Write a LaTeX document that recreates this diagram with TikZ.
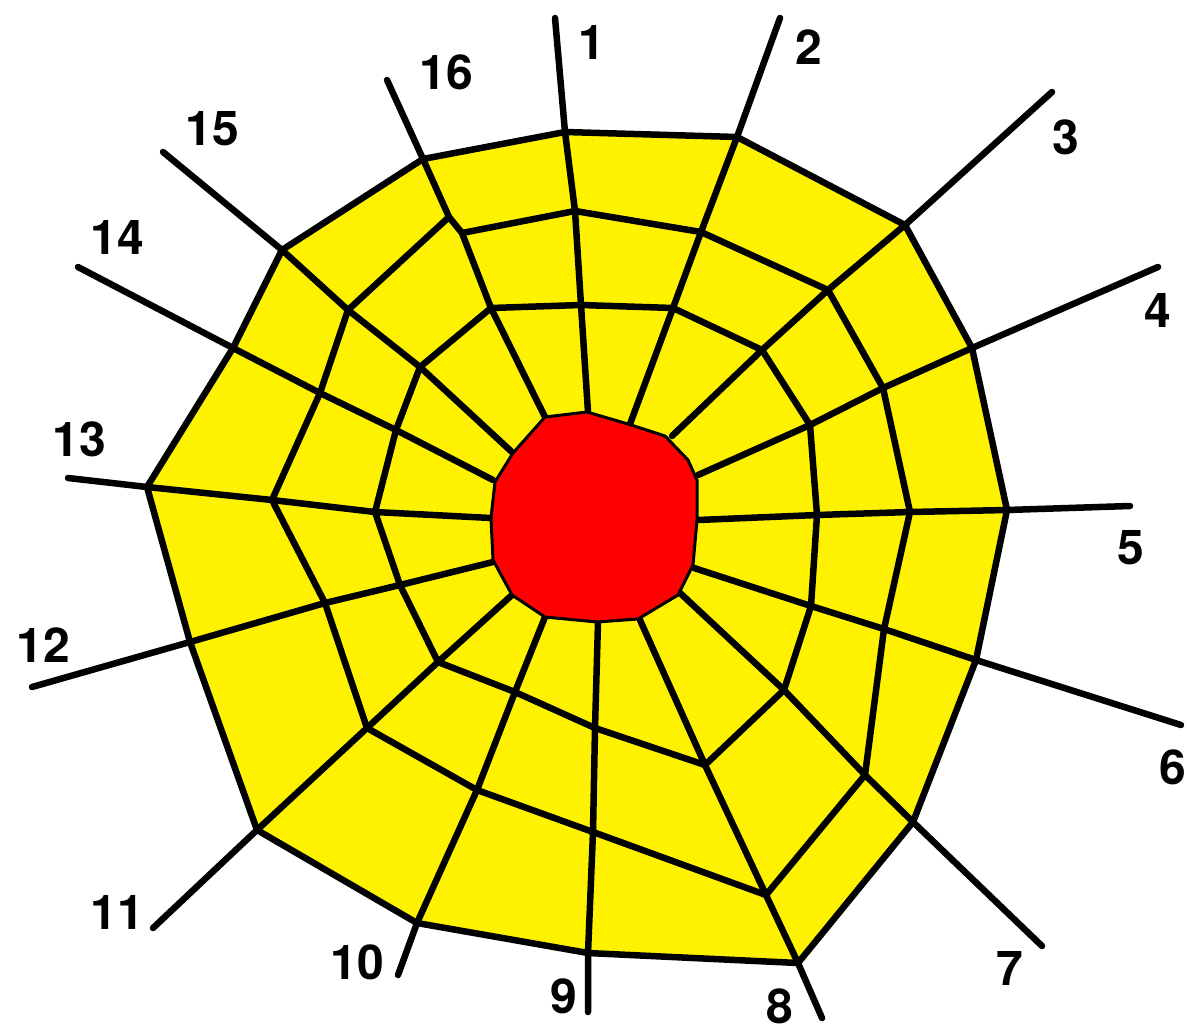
\documentclass[tikz,border=0pt]{standalone}
\usepackage{fontspec}
\setmainfont{TeX Gyre Heros}
\usepackage{tikz}
\newcommand{\spk}[1]{\fontsize{48}{52}\selectfont\bfseries #1}

\begin{document}
\begin{tikzpicture}[x=1pt,y=-1pt]
\useasboundingbox (0,0) rectangle (1190,1035);
% spokes: i = hub end, a = inner turn, b = middle turn, o = frame, e = free end
\coordinate (i1) at (588,412);  \coordinate (a1) at (581,305);  \coordinate (b1) at (575,211);  \coordinate (o1) at (565,132);  \coordinate (e1) at (555,18);
\coordinate (i2) at (630,424);  \coordinate (a2) at (673,308);  \coordinate (b2) at (701,232);  \coordinate (o2) at (737,137);  \coordinate (e2) at (780,18);
\coordinate (i3) at (672,436);  \coordinate (a3) at (762,350);  \coordinate (b3) at (828,290);  \coordinate (o3) at (905,225);  \coordinate (e3) at (1052,92);
\coordinate (i4) at (698,475);  \coordinate (a4) at (810,425);  \coordinate (b4) at (883,388);  \coordinate (o4) at (972,348);  \coordinate (e4) at (1158,267);
\coordinate (i5) at (698,520);  \coordinate (a5) at (817,515);  \coordinate (b5) at (910,512);  \coordinate (o5) at (1007,510); \coordinate (e5) at (1130,506);
\coordinate (i6) at (694,568);  \coordinate (a6) at (811,606);  \coordinate (b6) at (884,629);  \coordinate (o6) at (976,660);  \coordinate (e6) at (1181,725);
\coordinate (i7) at (680,593);  \coordinate (a7) at (784,690);  \coordinate (b7) at (865,775);  \coordinate (o7) at (913,822);  \coordinate (e7) at (1042,946);
\coordinate (i8) at (640,620);  \coordinate (a8) at (705,765);  \coordinate (b8) at (766,895);  \coordinate (o8) at (798,963);  \coordinate (e8) at (822,1018);
\coordinate (i9) at (598,622);  \coordinate (a9) at (595,728);  \coordinate (b9) at (593,832);  \coordinate (o9) at (588,953);  \coordinate (e9) at (588,1012);
\coordinate (i10) at (545,617); \coordinate (a10) at (515,692); \coordinate (b10) at (477,790); \coordinate (o10) at (417,923); \coordinate (e10) at (398,975);
\coordinate (i11) at (512,595); \coordinate (a11) at (438,662); \coordinate (b11) at (367,728); \coordinate (o11) at (257,830); \coordinate (e11) at (153,928);
\coordinate (i12) at (493,562); \coordinate (a12) at (400,585); \coordinate (b12) at (325,603); \coordinate (o12) at (190,642); \coordinate (e12) at (32,687);
\coordinate (i13) at (491,518); \coordinate (a13) at (375,512); \coordinate (b13) at (272,500); \coordinate (o13) at (147,487); \coordinate (e13) at (68,478);
\coordinate (i14) at (493,480); \coordinate (a14) at (396,430); \coordinate (b14) at (320,393); \coordinate (o14) at (233,348); \coordinate (e14) at (78,267);
\coordinate (i15) at (513,453); \coordinate (a15) at (420,367); \coordinate (b15) at (348,310); \coordinate (o15) at (282,250); \coordinate (e15) at (163,152);
\coordinate (i16) at (545,417); \coordinate (a16) at (491,308); \coordinate (c16) at (462,233); \coordinate (b16) at (449,217); \coordinate (o16) at (423,159); \coordinate (e16) at (387,80);
\fill[yellow] (o1)--(o2)--(o3)--(o4)--(o5)--(o6)--(o7)--(o8)--(o9)--(o10)--(o11)--(o12)--(o13)--(o14)--(o15)--(o16)--cycle;
\begin{scope}[line width=6.5pt, line join=round, line cap=round]
\draw (i1)--(a1)--(b1)--(o1)--(e1);
\draw (i2)--(a2)--(b2)--(o2)--(e2);
\draw (i3)--(a3)--(b3)--(o3)--(e3);
\draw (i4)--(a4)--(b4)--(o4)--(e4);
\draw (i5)--(a5)--(b5)--(o5)--(e5);
\draw (i6)--(a6)--(b6)--(o6)--(e6);
\draw (i7)--(a7)--(b7)--(o7)--(e7);
\draw (i8)--(a8)--(b8)--(o8)--(e8);
\draw (i9)--(a9)--(b9)--(o9)--(e9);
\draw (i10)--(a10)--(b10)--(o10)--(e10);
\draw (i11)--(a11)--(b11)--(o11)--(e11);
\draw (i12)--(a12)--(b12)--(o12)--(e12);
\draw (i13)--(a13)--(b13)--(o13)--(e13);
\draw (i14)--(a14)--(b14)--(o14)--(e14);
\draw (i15)--(a15)--(b15)--(o15)--(e15);
\draw (i16)--(a16)--(c16)--(b16)--(o16)--(e16);
% frame and the two turns of the spiral
\draw (o1)--(o2)--(o3)--(o4)--(o5)--(o6)--(o7)--(o8)--(o9)--(o10)--(o11)--(o12)--(o13)--(o14)--(o15)--(o16)--cycle;
\draw (c16)--(b1)--(b2)--(b3)--(b4)--(b5)--(b6)--(b7)--(b8)--(b9)--(b10)--(b11)--(b12)--(b13)--(b14)--(b15)--(b16);
\draw (a1)--(a2)--(a3)--(a4)--(a5)--(a6)--(a7)--(a8)--(a9)--(a10)--(a11)--(a12)--(a13)--(a14)--(a15)--(a16)--cycle;
\end{scope}
% hub
\filldraw[fill=red, draw=black, line width=3pt, line join=round] (545,417)--(587,412)--(628,424)--(665,436)--(688,460)--(697,480)--(697,520)--(693,565)--(678,595)--(638,619)--(597,622)--(545,617)--(512,595)--(493,560)--(491,518)--(495,482)--(513,453)--cycle;
\node (n1) at (592,42)   {\spk{1}};
\node (n2) at (809,47)   {\spk{2}};
\node (n3) at (1066,137) {\spk{3}};
\node (n4) at (1158,310) {\spk{4}};
\node (n5) at (1131,548) {\spk{5}};
\node (n6) at (1173,767) {\spk{6}};
\node (n7) at (1010,968) {\spk{7}};
\node (n8) at (780,1006) {\spk{8}};
\node (n9) at (564,996)  {\spk{9}};
\node (n10) at (357,962) {\spk{10}};
\node (n11) at (117,912) {\spk{11}};
\node (n12) at (43,645)  {\spk{12}};
\node (n13) at (79,439)  {\spk{13}};
\node (n14) at (117,237) {\spk{14}};
\node (n15) at (212,129) {\spk{15}};
\node (n16) at (446,72)  {\spk{16}};
\end{tikzpicture}
\end{document}
